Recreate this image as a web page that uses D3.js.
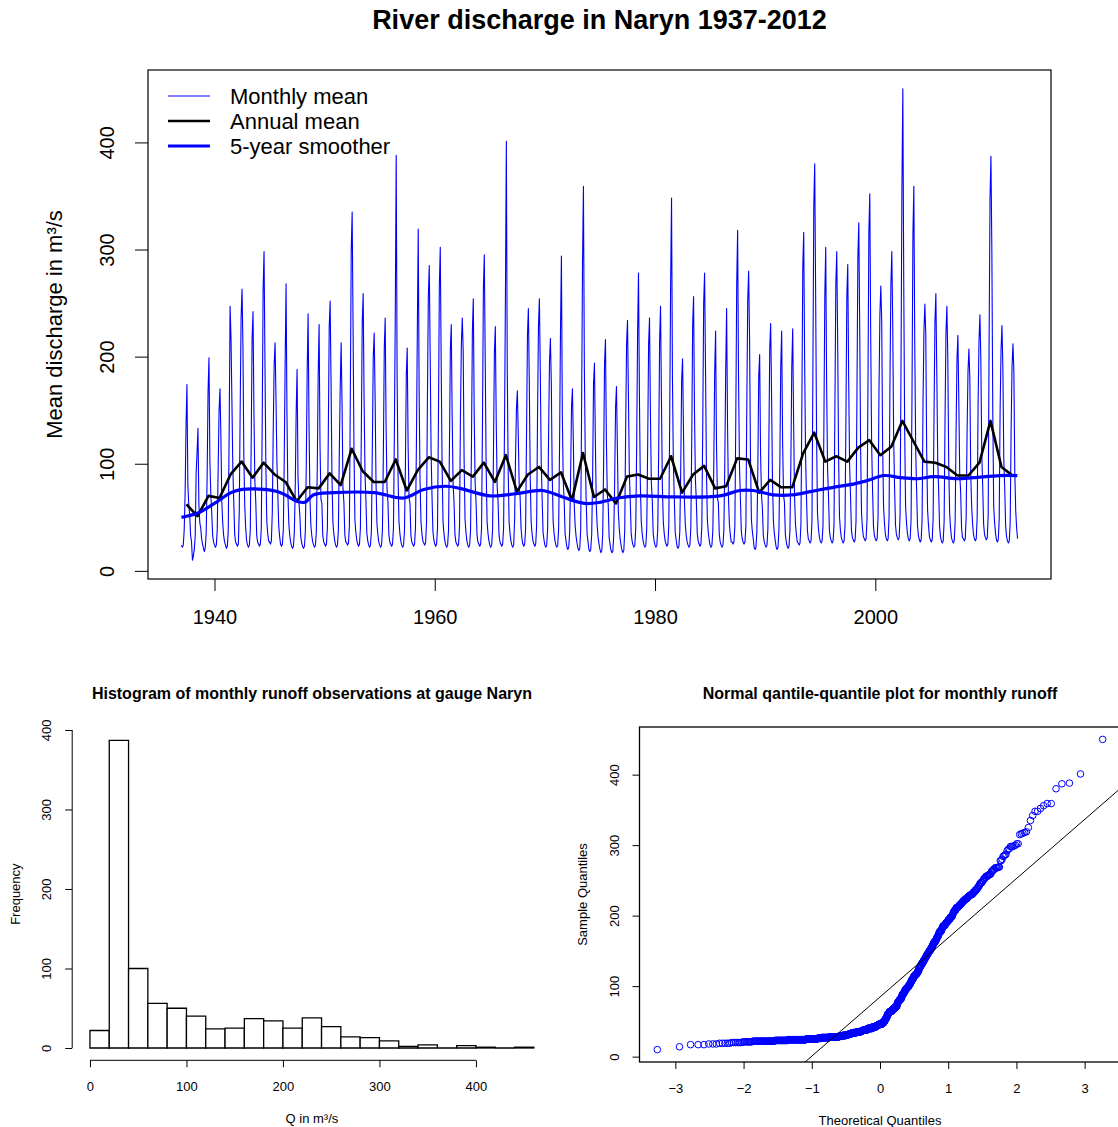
<!DOCTYPE html>
<html><head><meta charset="utf-8">
<script src="https://cdn.jsdelivr.net/npm/d3@7"></script>
<style>
body{margin:0;background:#fff}
svg{display:block}
text{font-family:"Liberation Sans",Arial,Helvetica,sans-serif;fill:#000}
</style>
</head><body>
<svg id="c" width="1118" height="1127"></svg>
<script>
// ---------------- DATA ----------------
const startYear = 1937;
// Monthly mean discharge (m³/s), one row per year, Jan..Dec
const monthly = [
[24,22,24,38,72,136,174,80,62,52,33,27],
[10,14,20,32,91,110,133,62,45,40,30,25],
[21,18,22,36,89,168,199,102,71,54,33,27],
[24,22,24,38,95,150,170,125,64,44,33,27],
[24,21,23,38,130,247,218,158,95,65,34,27],
[25,23,25,55,151,237,263,211,106,60,40,28],
[24,22,24,38,120,218,242,148,84,64,33,27],
[25,23,25,40,138,263,298,194,97,46,35,28],
[27,25,28,55,130,192,213,162,102,72,42,32],
[25,23,25,38,103,195,268,144,71,44,33,27],
[23,21,23,36,78,148,188,89,64,52,32,26],
[23,21,23,37,98,186,240,137,68,43,33,27],
[24,22,24,37,97,184,230,116,67,63,33,27],
[25,23,25,40,126,227,252,177,88,46,35,28],
[24,22,24,38,110,172,213,155,77,64,34,27],
[26,24,26,42,162,300,335,227,113,48,36,29],
[25,23,25,40,130,233,259,161,91,66,35,28],
[24,22,24,38,116,200,222,163,82,44,34,27],
[24,22,24,38,109,208,236,133,77,64,34,27],
[25,23,25,40,128,242,388,179,89,46,35,28],
[24,22,24,37,96,183,208,115,68,63,33,27],
[25,23,25,40,117,223,319,164,83,46,35,28],
[26,24,26,44,160,256,285,203,112,70,37,29],
[25,23,25,40,140,266,302,196,98,46,35,28],
[24,22,24,38,115,207,230,142,81,64,34,27],
[25,23,25,42,146,212,236,205,102,48,36,28],
[24,22,24,38,118,224,254,145,82,64,34,27],
[25,23,25,40,139,264,295,195,97,46,35,28],
[24,22,24,38,113,205,228,138,79,64,34,27],
[25,23,25,40,135,256,401,188,94,46,35,28],
[24,22,24,48,105,151,168,127,80,69,40,30],
[25,23,25,40,127,220,245,177,89,46,35,28],
[25,23,25,42,146,228,254,185,103,68,36,29],
[24,22,24,40,125,195,217,176,88,46,35,28],
[24,22,24,40,118,225,294,145,83,66,35,28],
[22,20,22,36,87,153,170,121,61,42,32,26],
[21,19,21,38,151,287,359,191,106,66,34,27],
[20,18,20,34,87,175,194,121,61,42,31,25],
[20,17,19,34,101,194,216,122,71,62,31,25],
[19,17,18,33,81,153,172,113,56,40,30,24],
[19,17,19,38,132,211,234,165,92,66,35,28],
[24,22,24,40,117,222,278,163,81,46,35,28],
[24,22,24,40,118,212,236,145,82,66,35,28],
[24,22,24,40,113,215,247,159,79,46,35,28],
[25,23,25,42,142,269,348,178,99,68,36,29],
[23,21,23,37,95,178,198,132,66,43,33,27],
[24,22,24,40,121,230,256,149,85,66,35,28],
[25,23,25,42,135,250,278,190,95,48,36,29],
[24,22,24,38,97,185,224,117,68,64,34,27],
[24,22,24,38,98,186,245,137,69,44,34,27],
[27,25,27,42,141,268,318,178,99,68,37,30],
[27,25,27,42,155,252,280,217,108,48,37,30],
[22,20,22,37,93,182,202,109,71,58,33,27],
[24,22,24,40,117,208,231,163,82,46,35,28],
[22,20,22,38,101,192,224,121,71,64,34,27],
[23,21,23,38,100,190,226,140,70,44,34,27],
[26,24,26,44,155,284,316,198,109,70,38,30],
[28,26,28,46,185,342,380,258,129,54,40,32],
[28,26,28,42,136,258,302,170,95,70,38,31],
[28,26,28,42,153,268,298,215,107,50,38,31],
[28,26,28,42,141,257,286,178,99,70,38,31],
[29,27,29,46,163,292,325,229,114,54,40,32],
[30,28,30,48,170,317,352,219,119,76,42,33],
[30,28,30,50,166,239,266,233,116,60,44,34],
[30,28,30,50,178,268,298,230,125,78,43,34],
[31,29,31,52,189,356,450,269,133,60,45,35],
[30,28,30,48,165,315,359,211,115,76,42,33],
[29,27,29,48,157,224,249,221,110,56,42,32],
[29,27,29,48,147,233,259,186,104,76,42,32],
[28,26,28,46,143,222,247,199,100,54,40,31],
[28,26,28,46,128,198,220,159,90,74,40,31],
[30,28,30,50,129,186,207,180,90,60,44,34],
[30,28,30,50,155,215,239,198,109,80,44,34],
[31,29,31,52,214,348,387,299,149,60,45,35],
[29,27,29,48,150,206,229,190,104,78,42,32],
[28,26,28,46,133,191,212,186,92,56,40,30]
];
// 5-year smoother (time, value)
const smoothT = [1937.0,1938.5,1940.0,1941.5,1942.5,1944.5,1946.0,1947.5,1948.2,1949.0,1950.8,1954.5,1957.2,1959.0,1961.0,1962.3,1965.0,1967.4,1969.8,1971.6,1973.6,1975.0,1976.6,1978.6,1981.7,1985.9,1987.7,1988.9,1990.7,1992.5,1994.1,1996.2,1998.0,1999.2,2000.8,2002.3,2003.8,2005.3,2007.4,2008.9,2011.3,2012.9];
const smoothV = [50,54,63,73,76,76,73,65,64,71,73,73,68,76,79,77,70,72,75,69,63,64,68,70,69,70,75,75,71,71,74,78,81,84,89,87,86,88,86,87,89,89];
// Histogram (bins of 20 m³/s)
const histBreaks = [0,20,40,60,80,100,120,140,160,180,200,220,240,260,280,300,320,340,360,380,400,420,440,460];
const histCounts = [22,387,100,56,50,40,24,25,37,34,25,38,27,14,13,9,2,4,0,3,1,0,1];
// Tick labels
const topXTicks = [1940,1960,1980,2000];
const topYTicks = [0,100,200,300,400];
const histXTicks = [0,100,200,300,400];
const histYTicks = [0,100,200,300,400];
const qqXTicks = [-3,-2,-1,0,1,2,3];
const qqYTicks = [0,100,200,300,400];
const legendLabels = ["Monthly mean","Annual mean","5-year smoother"];

// ---------------- HELPERS ----------------
const svg = d3.select("#c");
const FONT = '"Liberation Sans",Arial,Helvetica,sans-serif';
function pad(ext){const r=ext[1]-ext[0];return [ext[0]-0.04*r, ext[1]+0.04*r];}
function qnorm(p){
  const a=[-3.969683028665376e+01,2.209460984245205e+02,-2.759285104469687e+02,1.383577518672690e+02,-3.066479806614716e+01,2.506628277459239e+00];
  const b=[-5.447609879822406e+01,1.615858368580409e+02,-1.556989798598866e+02,6.680131188771972e+01,-1.328068155288572e+01];
  const c=[-7.784894002430293e-03,-3.223964580411365e-01,-2.400758277161838e+00,-2.549732539343734e+00,4.374664141464968e+00,2.938163982698783e+00];
  const d=[7.784695709041462e-03,3.224671290700398e-01,2.445134137142996e+00,3.754408661907416e+00];
  const pl=0.02425, ph=1-pl; let q,r;
  if(p<pl){q=Math.sqrt(-2*Math.log(p));return (((((c[0]*q+c[1])*q+c[2])*q+c[3])*q+c[4])*q+c[5])/((((d[0]*q+d[1])*q+d[2])*q+d[3])*q+1);}
  if(p<=ph){q=p-0.5;r=q*q;return (((((a[0]*r+a[1])*r+a[2])*r+a[3])*r+a[4])*r+a[5])*q/(((((b[0]*r+b[1])*r+b[2])*r+b[3])*r+b[4])*r+1);}
  q=Math.sqrt(-2*Math.log(1-p));return -(((((c[0]*q+c[1])*q+c[2])*q+c[3])*q+c[4])*q+c[5])/((((d[0]*q+d[1])*q+d[2])*q+d[3])*q+1);
}
function styleAxis(g,size){
  g.attr("font-family",FONT).attr("font-size",size);
  g.select(".domain").remove();
  g.selectAll(".tick line").attr("stroke","#000").attr("stroke-width",1);
  g.selectAll(".tick text").attr("fill","#000");
}
function xAxis(g,scale,ticks,y,tick,size,base,fmt){
  g.attr("transform",`translate(0,${y})`).call(d3.axisBottom(scale).tickValues(ticks).tickSize(tick).tickFormat(fmt));
  styleAxis(g,size);
  g.selectAll(".tick text").attr("dy",null).attr("y",base);
}
function yAxis(g,scale,ticks,x,tick,size,base){
  g.attr("transform",`translate(${x},0)`).call(d3.axisLeft(scale).tickValues(ticks).tickSize(tick).tickFormat(d3.format("d")));
  styleAxis(g,size);
  g.selectAll(".tick text").attr("x",null).attr("dy",null).attr("text-anchor","middle")
    .attr("transform",`translate(${-base},0) rotate(-90)`);
}

// ---------------- TOP: TIME SERIES ----------------
const flat = monthly.flatMap((row,i)=>row.map((v,m)=>({t:startYear+i+m/12, v})));
const annual = monthly.map((row,i)=>({t:startYear+i+5.5/12, v:d3.mean(row)}));
const smooth = smoothT.map((t,i)=>({t, v:smoothV[i]}));

const TP = {l:148, r:1051, t:70, b:579};
const xT = d3.scaleLinear().domain(pad(d3.extent(flat,d=>d.t))).range([TP.l,TP.r]);
const yT = d3.scaleLinear().domain(pad(d3.extent(flat,d=>d.v))).range([TP.b,TP.t]);

svg.append("text").attr("x",(TP.l+TP.r)/2).attr("y",29).attr("text-anchor","middle")
  .attr("font-size",27).attr("font-weight","bold").text("River discharge in Naryn 1937-2012");

const topG = svg.append("g");
topG.append("path").datum(flat).attr("fill","none").attr("stroke","#0000ff").attr("stroke-width",1.1)
  .attr("stroke-linejoin","round")
  .attr("d",d3.line().x(d=>xT(d.t)).y(d=>yT(d.v)));
topG.append("path").datum(annual).attr("fill","none").attr("stroke","#000").attr("stroke-width",2.6)
  .attr("stroke-linejoin","round")
  .attr("d",d3.line().x(d=>xT(d.t)).y(d=>yT(d.v)));
topG.append("path").datum(smooth).attr("fill","none").attr("stroke","#0000ff").attr("stroke-width",3.2)
  .attr("d",d3.line().curve(d3.curveCatmullRom.alpha(0.5)).x(d=>xT(d.t)).y(d=>yT(d.v)));
topG.append("rect").attr("x",TP.l).attr("y",TP.t).attr("width",TP.r-TP.l).attr("height",TP.b-TP.t)
  .attr("fill","none").attr("stroke","#000").attr("stroke-width",1.2);

xAxis(svg.append("g"),xT,topXTicks,TP.b,12,20,45,d3.format("d"));
yAxis(svg.append("g"),yT,topYTicks,TP.l,13,20,34);
svg.append("text").attr("transform",`translate(62,${(TP.t+TP.b)/2}) rotate(-90)`).attr("text-anchor","middle")
  .attr("font-size",22).text("Mean discharge in m³/s");

// legend
const legStyles = [{c:"#0000ff",w:1.1},{c:"#000",w:2.6},{c:"#0000ff",w:3.2}];
legendLabels.forEach((lab,i)=>{
  const y = 96 + i*25;
  svg.append("line").attr("x1",168).attr("x2",210).attr("y1",y).attr("y2",y)
    .attr("stroke",legStyles[i].c).attr("stroke-width",legStyles[i].w);
  svg.append("text").attr("x",230).attr("y",y+8).attr("font-size",22).text(lab);
});

// ---------------- BOTTOM LEFT: HISTOGRAM ----------------
const HP = {l:72.2, r:551.6, t:728, b:1060.3};
const xH = d3.scaleLinear().domain(pad([histBreaks[0],histBreaks[histBreaks.length-1]])).range([HP.l,HP.r]);
const yH = d3.scaleLinear().domain(pad([0,d3.max(histCounts)])).range([HP.b,HP.t]);
svg.append("text").attr("x",(HP.l+HP.r)/2).attr("y",699).attr("text-anchor","middle")
  .attr("font-size",16).attr("font-weight","bold").text("Histogram of monthly runoff observations at gauge Naryn");
svg.append("g").selectAll("path").data(histCounts).join("path")
  .attr("fill","#fff").attr("stroke","#000").attr("stroke-width",1.3)
  .attr("d",(c,i)=>{const x0=xH(histBreaks[i]),x1=xH(histBreaks[i+1]),y0=yH(0),y1=yH(c);
    return `M${x0},${y0}V${y1}H${x1}V${y0}Z`;});
const hx = svg.append("g"); xAxis(hx,xH,histXTicks,HP.b,7,13,31,d3.format("d"));
hx.append("line").attr("x1",xH(histXTicks[0])).attr("x2",xH(histXTicks[histXTicks.length-1])).attr("stroke","#000");
const hy = svg.append("g"); yAxis(hy,yH,histYTicks,HP.l,7,13,21);
hy.append("line").attr("y1",yH(histYTicks[0])).attr("y2",yH(histYTicks[histYTicks.length-1])).attr("stroke","#000");
svg.append("text").attr("x",(HP.l+HP.r)/2).attr("y",1123).attr("text-anchor","middle").attr("font-size",13).text("Q in m³/s");
svg.append("text").attr("transform",`translate(20,${(HP.t+HP.b)/2}) rotate(-90)`).attr("text-anchor","middle")
  .attr("font-size",13).text("Frequency");

// ---------------- BOTTOM RIGHT: QQ PLOT ----------------
const sorted = flat.map(d=>d.v).sort(d3.ascending);
const nObs = sorted.length;
const qq = sorted.map((v,i)=>({x:qnorm((i+0.5)/nObs), y:v}));
const QP = {l:639.5, r:1120.5, t:727, b:1062};
const xQ = d3.scaleLinear().domain(pad(d3.extent(qq,d=>d.x))).range([QP.l,QP.r]);
const yQ = d3.scaleLinear().domain(pad(d3.extent(qq,d=>d.y))).range([QP.b,QP.t]);
svg.append("text").attr("x",(QP.l+QP.r)/2).attr("y",699).attr("text-anchor","middle")
  .attr("font-size",16).attr("font-weight","bold").text("Normal qantile-quantile plot for monthly runoff");
svg.append("clipPath").attr("id","qclip").append("rect").attr("x",QP.l).attr("y",QP.t).attr("width",QP.r-QP.l).attr("height",QP.b-QP.t);
const qg = svg.append("g").attr("clip-path","url(#qclip)");
qg.selectAll("circle").data(qq).join("circle").attr("cx",d=>xQ(d.x)).attr("cy",d=>yQ(d.y)).attr("r",3.3)
  .attr("fill","none").attr("stroke","#0000ff").attr("stroke-width",1);
const qy1 = d3.quantile(sorted,0.25), qy3 = d3.quantile(sorted,0.75);
const qx1 = qnorm(0.25), qx3 = qnorm(0.75);
const slope = (qy3-qy1)/(qx3-qx1), icpt = qy1 - slope*qx1;
const xd = xQ.domain();
qg.append("line").attr("x1",xQ(xd[0])).attr("y1",yQ(icpt+slope*xd[0])).attr("x2",xQ(xd[1])).attr("y2",yQ(icpt+slope*xd[1]))
  .attr("stroke","#000").attr("stroke-width",1);
svg.append("rect").attr("x",QP.l).attr("y",QP.t).attr("width",QP.r-QP.l).attr("height",QP.b-QP.t)
  .attr("fill","none").attr("stroke","#000").attr("stroke-width",1.3);
xAxis(svg.append("g"),xQ,qqXTicks,QP.b,7,13,31,d3.format("d"));
yAxis(svg.append("g"),yQ,qqYTicks,QP.l,7,13,21);
svg.append("text").attr("x",(QP.l+QP.r)/2).attr("y",1125).attr("text-anchor","middle").attr("font-size",13).text("Theoretical Quantiles");
svg.append("text").attr("transform",`translate(587,${(QP.t+QP.b)/2}) rotate(-90)`).attr("text-anchor","middle")
  .attr("font-size",13).text("Sample Quantiles");
</script>
</body></html>
